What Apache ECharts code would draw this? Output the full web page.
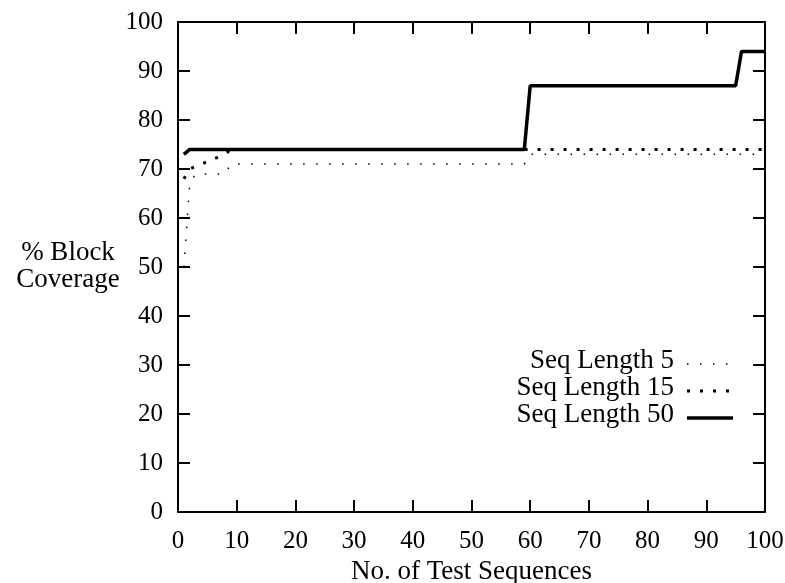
<!DOCTYPE html>
<html>
<head>
<meta charset="utf-8">
<script src="https://cdn.jsdelivr.net/npm/echarts@6/dist/echarts.min.js"></script>
<style>
  html, body { margin: 0; padding: 0; background: #fff; }
  #chart { width: 785px; height: 583px; }
</style>
</head>
<body>
<div id="chart"></div>
<script>
'use strict';
// data
var seq5X = [1, 2, 3, 8, 9, 59, 60, 100];
var seq5Y = [50, 67, 69, 69, 71, 71, 73, 73];
var seq15X = [1, 2, 4, 6, 8, 9, 100];
var seq15Y = [68, 70, 71, 72, 73, 74, 74];
var seq50X = [1, 2, 59, 60, 95, 96, 100];
var seq50Y = [73, 74, 74, 87, 87, 94, 94];
var seriesNames = ['Seq Length 5', 'Seq Length 15', 'Seq Length 50'];

var FONT = 'Liberation Serif';
var WORD_FONT = '27px "' + FONT + '"';

function pairs(xs, ys) {
    var out = [];
    for (var i = 0; i < xs.length; i++) {
        out.push([xs[i], ys[i]]);
    }
    return out;
}

// axis settings shared by the four sides of the frame
function frameAxis(showLabels, margin) {
    return {
        min: 0,
        max: 100,
        interval: 10,
        axisLine: { show: true, onZero: false, lineStyle: { color: '#000', width: 2 } },
        axisTick: { show: true, inside: true, length: 12, lineStyle: { color: '#000', width: 2 } },
        axisLabel: { show: showLabels, color: '#000', fontFamily: FONT, fontSize: 25, margin: margin },
        splitLine: { show: false }
    };
}

var xBottom = frameAxis(true, 17);
xBottom.type = 'value';
xBottom.position = 'bottom';
xBottom.name = 'No. of Test Sequences';
xBottom.nameLocation = 'middle';
xBottom.nameGap = 44;
xBottom.nameTextStyle = { color: '#000', fontFamily: FONT, fontSize: 27 };

var xTop = frameAxis(false, 8);
xTop.type = 'value';
xTop.position = 'top';

var yLeft = frameAxis(true, 15);
yLeft.type = 'value';
yLeft.position = 'left';

var yRight = frameAxis(false, 8);
yRight.type = 'value';
yRight.position = 'right';

// legend samples, drawn as small graphics
var legendRows = [361, 388, 415];
var legendStyles = [
    { lineWidth: 1.5, lineDash: [1.5, 11.5] },
    { lineWidth: 3, lineDash: [3, 10] },
    { lineWidth: 3.5, lineDash: null }
];
var graphics = [
    {
        type: 'text', x: 68, y: 253,
        style: { text: '% Block', fill: '#000', font: WORD_FONT, align: 'center', verticalAlign: 'middle' }
    },
    {
        type: 'text', x: 68, y: 280,
        style: { text: 'Coverage', fill: '#000', font: WORD_FONT, align: 'center', verticalAlign: 'middle' }
    }
];
for (var i = 0; i < seriesNames.length; i++) {
    graphics.push({
        type: 'text', x: 674, y: legendRows[i],
        style: { text: seriesNames[i], fill: '#000', font: WORD_FONT, align: 'right', verticalAlign: 'middle' }
    });
    graphics.push({
        type: 'line',
        shape: { x1: 687, y1: legendRows[i] + 3, x2: 733, y2: legendRows[i] + 3 },
        style: { stroke: '#000', lineWidth: legendStyles[i].lineWidth, lineDash: legendStyles[i].lineDash }
    });
}

var myChart = echarts.init(document.getElementById('chart'), null, { renderer: 'canvas' });
var option = {
    animation: false,
    backgroundColor: '#fff',
    grid: { left: 178, right: 20, top: 22, bottom: 71, containLabel: false, outerBoundsMode: 'none' },
    xAxis: [xBottom, xTop],
    yAxis: [yLeft, yRight],
    graphic: graphics,
    series: [
        {
            name: seriesNames[0],
            type: 'line',
            data: pairs(seq5X, seq5Y),
            showSymbol: false,
            lineStyle: { color: '#000', width: 1.5, type: [1.5, 11.5] }
        },
        {
            name: seriesNames[1],
            type: 'line',
            data: pairs(seq15X, seq15Y),
            showSymbol: false,
            lineStyle: { color: '#000', width: 3, type: [3, 10] }
        },
        {
            name: seriesNames[2],
            type: 'line',
            data: pairs(seq50X, seq50Y),
            showSymbol: false,
            lineStyle: { color: '#000', width: 3.5, type: 'solid' }
        }
    ]
};
myChart.setOption(option);
</script>
</body>
</html>
